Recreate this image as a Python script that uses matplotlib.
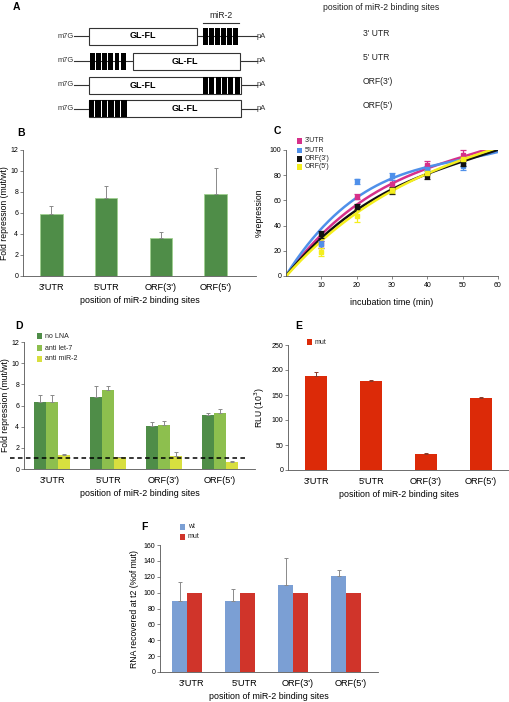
import numpy as np
import matplotlib
matplotlib.use('Agg')
import matplotlib.pyplot as plt
from matplotlib.patches import Rectangle

plt.rcParams['font.family'] = ['Liberation Sans', 'DejaVu Sans']

W, H = 510, 702
fig = plt.figure(figsize=(W / 100, H / 100), dpi=100)

# ---------------- data ----------------
sites = ["3'UTR", "5'UTR", "ORF(3')", "ORF(5')"]
construct_labels = ["3' UTR", "5' UTR", "ORF(3')", "ORF(5')"]

# B
b_vals = [5.9, 7.4, 3.6, 7.8]
b_err = [0.8, 1.2, 0.6, 2.5]

# C
c_time = [10, 20, 30, 40, 50]
c_3utr = [25, 63, 73, 88, 96]
c_3utr_err = [3, 2, 3, 3, 4]
c_5utr = [25, 75, 79, 85, 87]
c_5utr_err = [3, 2, 3, 2, 3]
c_orf3 = [33, 55, 68, 79, 89]
c_orf3_err = [3, 2, 3, 2, 2]
c_orf5 = [19, 48, 68, 82, 93]
c_orf5_err = [3, 5, 2, 2, 2]
c_curve_t = [0, 10, 20, 30, 40, 50, 60]
c_curve_3utr = [0, 32.5, 57.7, 72, 85.7, 95, 103]
c_curve_5utr = [0, 38.6, 62.4, 76, 86.7, 93.5, 98]
c_curve_orf3 = [0, 30, 53, 68, 81, 91.5, 100]
c_curve_orf5 = [0, 27, 51, 67, 81.7, 92, 102]
c_names = ["3'UTR", "5'UTR", "ORF(3')", "ORF(5')"]

# D
d_nolna = [6.3, 6.8, 4.1, 5.1]
d_nolna_err = [0.7, 1.0, 0.3, 0.2]
d_let7 = [6.3, 7.5, 4.2, 5.3]
d_let7_err = [0.7, 0.3, 0.3, 0.4]
d_mir2 = [1.3, 1.1, 1.2, 0.7]
d_mir2_err = [0.1, 0.05, 0.4, 0.05]
d_names = ["no LNA", "anti let-7", "anti miR-2"]

# E
e_mut = [188, 178, 32, 145]
e_mut_err = [8, 2, 2, 2]

# F
f_wt = [90, 89, 110, 121]
f_wt_err = [23, 16, 33, 7]
f_mut = [100, 100, 100, 100]

# ---------------- helpers ----------------
def add_ax(l, t, r, b):
    return fig.add_axes([l / W, 1 - b / H, (r - l) / W, (b - t) / H])

TICK_FS = 5
CAT_FS = 6.6
LAB_FS = 6.4
YLAB_FS = 6.2
SPINE = '#555555'

def style(ax, xticks=False):
    for s in ['top', 'right']:
        ax.spines[s].set_visible(False)
    for s in ['left', 'bottom']:
        ax.spines[s].set_color(SPINE)
        ax.spines[s].set_linewidth(0.6)
    ax.tick_params(axis='y', labelsize=TICK_FS, length=2, width=0.5, color=SPINE, pad=1.5)
    if xticks:
        ax.tick_params(axis='x', labelsize=TICK_FS, length=2, width=0.5, color=SPINE, pad=2)
    else:
        ax.tick_params(axis='x', labelsize=CAT_FS, length=0, pad=5)

# overlay for schematic, panel labels, legends (pixel coords)
ov = fig.add_axes([0, 0, 1, 1], zorder=10)
ov.set_xlim(0, W)
ov.set_ylim(H, 0)
ov.axis('off')
ov.patch.set_alpha(0)

# ---------------- Panel A ----------------
rows_y = [36, 61, 85, 108.5]
bh = 17
site_spans = [(203, 239), (90, 127), (203, 241), (89, 128)]
box_spans = [(89, 197), (133, 240), (89, 241), (89, 241)]
glfl_x = [143, 185, 143, 185]
for i, y in enumerate(rows_y):
    ov.text(74, y, 'm7G', fontsize=5.4, ha='right', va='center', color='#333333')
    ov.plot([74, 257], [y, y], color='#333333', lw=0.8, zorder=1)
    ov.text(257, y, 'pA', fontsize=5.4, ha='left', va='center', color='#333333')
    bx0, bx1 = box_spans[i]
    ov.add_patch(Rectangle((bx0, y - bh / 2), bx1 - bx0, bh, facecolor='white',
                           edgecolor='#333333', lw=0.8, zorder=2))
    sx0, sx1 = site_spans[i]
    n = 6
    step = (sx1 - sx0) / n
    for k in range(n):
        ov.add_patch(Rectangle((sx0 + k * step, y - bh / 2), step * 0.78, bh,
                               facecolor='black', edgecolor='none', zorder=3))
    ov.text(glfl_x[i], y, 'GL-FL', fontsize=6.5, fontweight='bold', ha='center', va='center', zorder=4)
    ov.text(363, y - 3, construct_labels[i], fontsize=6.2, ha='left', va='center', color='#222222')
ov.plot([203, 239], [22.5, 22.5], color='#333333', lw=0.8)
ov.text(221, 16, 'miR-2', fontsize=6.2, ha='center', va='center', color='#222222')
ov.text(323, 7, 'position of miR-2 binding sites', fontsize=6.2, ha='left', va='center', color='#222222')

for lab, (x, y) in zip('ABCDEF', [(13, 7), (17, 133), (274, 131), (15, 326), (295, 326), (141, 527)]):
    ov.text(x, y, lab, fontsize=7.5, fontweight='bold', ha='left', va='center')

# ---------------- Panel B ----------------
axB = add_ax(23, 150, 256, 276)
xb = np.arange(len(sites))
axB.bar(xb, b_vals, width=0.41, color='#4f8d48', edgecolor='#9fd08f', lw=0.6)
axB.errorbar(xb, b_vals, yerr=[np.zeros(4), b_err], fmt='none', ecolor='#8a8a8a',
             elinewidth=0.7, capsize=1.2, capthick=0.7)
axB.set_ylim(0, 12)
axB.set_yticks(range(0, 13, 2))
axB.set_xlim(-0.52, 3.74)
axB.set_xticks(xb)
axB.set_xticklabels(sites)
axB.set_xlabel('position of miR-2 binding sites', fontsize=LAB_FS, labelpad=3)
axB.set_ylabel('Fold repression (mut/wt)', fontsize=YLAB_FS, labelpad=1)
style(axB)

# ---------------- Panel C ----------------
axC = add_ax(286, 150, 498, 276)
c_cols = ['#d6308a', '#4f90ea', '#111111', '#f4ee1e']
c_pts = [c_3utr, c_5utr, c_orf3, c_orf5]
c_errs = [c_3utr_err, c_5utr_err, c_orf3_err, c_orf5_err]
c_curves = [c_curve_3utr, c_curve_5utr, c_curve_orf3, c_curve_orf5]
tt = np.linspace(0, 60, 200)
order = [1, 0, 3, 2]
for i in order:
    coef = np.polyfit(c_curve_t, c_curves[i], 3)
    axC.plot(tt, np.polyval(coef, tt), color=c_cols[i], lw=1.8, zorder=2 + i * 0.1)
for i in range(4):
    axC.errorbar(c_time, c_pts[i], yerr=c_errs[i], fmt='s', color=c_cols[i], ms=3,
                 elinewidth=0.9, capsize=2, capthick=0.9, clip_on=False, zorder=3)
axC.set_xlim(0, 60)
axC.set_ylim(0, 100)
axC.set_xticks(range(10, 61, 10))
axC.set_yticks(range(0, 101, 20))
axC.set_xlabel('incubation time (min)', fontsize=LAB_FS, labelpad=7)
axC.set_ylabel('%repression', fontsize=YLAB_FS, labelpad=4)
style(axC, xticks=True)
for i, (name, y) in enumerate(zip(c_names, [141, 150.5, 159, 167])):
    ov.add_patch(Rectangle((297, y - 2.7), 5.4, 5.4, facecolor=c_cols[i], edgecolor='none'))
    ov.text(305, y, name, fontsize=5, ha='left', va='center', color='#222222')

# ---------------- Panel D ----------------
axD = add_ax(24, 342, 255, 469)
xd = np.arange(len(sites))
bw = 0.22
d_cols = ['#4f8d48', '#8dbf4e', '#d8df3f']
d_vals = [d_nolna, d_let7, d_mir2]
d_errs = [d_nolna_err, d_let7_err, d_mir2_err]
for j in range(3):
    pos = xd + (j - 1) * bw
    axD.bar(pos, d_vals[j], width=bw, color=d_cols[j], edgecolor='none')
    axD.errorbar(pos, d_vals[j], yerr=[np.zeros(4), d_errs[j]], fmt='none', ecolor='#8a8a8a',
                 elinewidth=0.7, capsize=1.2, capthick=0.7)
axD.set_ylim(0, 12)
axD.set_yticks(range(0, 13, 2))
axD.set_xlim(-0.5, 3.625)
axD.set_xticks(xd)
axD.set_xticklabels(sites)
axD.set_xlabel('position of miR-2 binding sites', fontsize=LAB_FS, labelpad=3)
axD.set_ylabel('Fold repression (mut/wt)', fontsize=YLAB_FS, labelpad=1)
style(axD)
trD = axD.get_yaxis_transform()
axD.plot([(10 - 24) / (255 - 24), (247 - 24) / (255 - 24)], [1, 1], transform=trD,
         color='black', lw=1.1, ls=(0, (3, 2.2)), clip_on=False, zorder=5)
for j, (name, y) in enumerate(zip(d_names, [336, 348, 359])):
    ov.add_patch(Rectangle((37, y - 2.7), 5.4, 5.4, facecolor=d_cols[j], edgecolor='none'))
    ov.text(45, y, name, fontsize=5, ha='left', va='center', color='#222222')

# ---------------- Panel E ----------------
axE = add_ax(288, 345, 510, 470)
xe = np.arange(len(sites))
axE.bar(xe, e_mut, width=0.4, color='#dc2a08', edgecolor='none')
axE.errorbar(xe, e_mut, yerr=[np.zeros(4), e_mut_err], fmt='none', ecolor='#8a3a2a',
             elinewidth=0.7, capsize=1.2, capthick=0.7)
axE.set_ylim(0, 250)
axE.set_yticks(range(0, 251, 50))
axE.set_xlim(-0.51, 3.53)
axE.set_xticks(xe)
axE.set_xticklabels(sites)
axE.set_xlabel('position of miR-2 binding sites', fontsize=LAB_FS, labelpad=3)
axE.set_ylabel('RLU (10$^3$)', fontsize=YLAB_FS, labelpad=3)
style(axE)
ov.add_patch(Rectangle((307, 342 - 2.7), 5.4, 5.4, facecolor='#dc2a08', edgecolor='none'))
ov.text(315, 342, 'mut', fontsize=5, ha='left', va='center', color='#222222')

# ---------------- Panel F ----------------
axF = add_ax(160, 545, 378, 672)
xf = np.arange(len(sites))
fw = 0.28
axF.bar(xf - fw / 2, f_wt, width=fw, color='#7b9fd4', edgecolor='none')
axF.errorbar(xf - fw / 2, f_wt, yerr=[np.zeros(4), f_wt_err], fmt='none', ecolor='#8a8a8a',
             elinewidth=0.7, capsize=1.2, capthick=0.7)
axF.bar(xf + fw / 2, f_mut, width=fw, color='#d0342a', edgecolor='none')
axF.set_ylim(0, 160)
axF.set_yticks(range(0, 161, 20))
axF.set_xlim(-0.51, 3.6)
axF.set_xticks(xf + 0.08)
axF.set_xticklabels(sites)
axF.set_xlabel('position of miR-2 binding sites', fontsize=LAB_FS, labelpad=3)
axF.set_ylabel('RNA recovered at t2 (%of mut)', fontsize=YLAB_FS, labelpad=3)
style(axF)
for col, name, y in [('#7b9fd4', 'wt', 527), ('#d0342a', 'mut', 537)]:
    ov.add_patch(Rectangle((180, y - 2.7), 5.4, 5.4, facecolor=col, edgecolor='none'))
    ov.text(188, y, name, fontsize=5, ha='left', va='center', color='#222222')

fig.savefig('out.png', dpi=100)
